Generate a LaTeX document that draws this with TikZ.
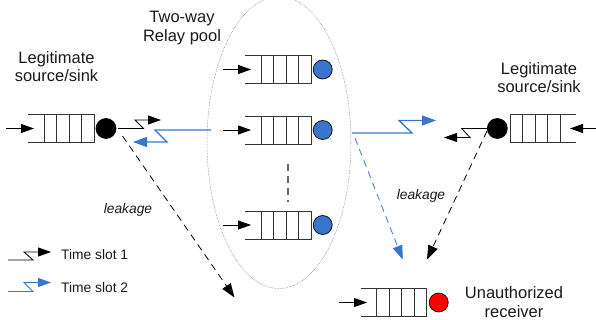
\documentclass[tikz,border=0pt]{standalone}
\usepackage{fontspec}
\setmainfont{Liberation Sans}
\usetikzlibrary{arrows.meta,shapes.geometric}
\definecolor{myblue}{RGB}{58,117,205}
\definecolor{txt}{RGB}{25,25,25}
\tikzset{
  x=1pt,y=-1pt,
  qline/.style={draw=black!80,line width=0.9pt},
  inarrow/.style={draw=black,line width=0.8pt,-{Triangle[length=13pt,width=9pt]}},
  zig/.style={line width=0.8pt,-{Triangle[length=13pt,width=9pt]}},
  zigblue/.style={draw=myblue,line width=1.3pt,-{Triangle[length=14pt,width=10pt]}},
  zigleg/.style={draw=myblue,line width=0.8pt,-{Triangle[length=13pt,width=9pt]}},
  leak/.style={line width=0.8pt,dash pattern=on 7pt off 5pt,-{Triangle[length=14pt,width=10pt]}},
  leakblue/.style={leak,draw=myblue},
  dot/.style={circle,draw=black,line width=0.7pt,inner sep=0pt,minimum size=19pt},
  lab/.style={align=center,text=txt,inner sep=0pt,font=\fontsize{16.5}{18.7}\selectfont},
  smalllab/.style={text=txt,font=\fontsize{13.8}{16}\selectfont},
  leaklab/.style={text=txt,font=\fontsize{13.8}{16}\selectfont\itshape},
}
\newcommand{\queueL}[2]{%
  \draw[qline] (#1,#2) -- ++(66,0) -- ++(0,28) -- ++(-66,0);
  \foreach \k in {16,28.5,41,53.5} \draw[qline] (#1+\k,#2) -- ++(0,28);
}
\newcommand{\queueR}[2]{%
  \draw[qline] (#1+66,#2) -- ++(-66,0) -- ++(0,28) -- ++(66,0);
  \foreach \k in {12.5,25,37.5,50} \draw[qline] (#1+\k,#2) -- ++(0,28);
}
\begin{document}
\begin{tikzpicture}
\useasboundingbox (0,0) rectangle (596,320);
% pool
\begin{scope}
\clip (0,0) rectangle (596,320);
\node[draw=black!60,densely dotted,line width=0.5pt,ellipse,inner sep=0pt,minimum width=144pt,minimum height=292pt] (pool) at (279,142.5) {};
\end{scope}
% queues
\queueL{28}{114.5}
\queueL{245}{55}
\queueL{245}{116}
\queueL{245}{211}
\queueR{510}{114.5}
\queueL{360.7}{288.5}
% servers
\node[dot,fill=black,minimum size=20pt] (src) at (106,128.5) {};
\node[dot,fill=myblue] (r1) at (322.7,69.5) {};
\node[dot,fill=myblue] (r2) at (322.7,130) {};
\node[dot,fill=myblue] (r3) at (322.7,225) {};
\node[dot,fill=black,minimum size=20pt] (dst) at (497.3,128.5) {};
\node[dot,fill=red] (eve) at (438.7,302.5) {};
% input arrows
\coordinate (a0) at (6,128.5);   \coordinate (a0e) at (34,128.5);
\coordinate (a1) at (223,69.5);  \coordinate (a1e) at (251,69.5);
\coordinate (a2) at (223,130);   \coordinate (a2e) at (251,130);
\coordinate (a3) at (223,225);   \coordinate (a3e) at (251,225);
\coordinate (a4) at (596,128.5); \coordinate (a4e) at (570,128.5);
\coordinate (a5) at (339,302.5); \coordinate (a5e) at (367,302.5);
\foreach \s/\e in {a0/a0e,a1/a1e,a2/a2e,a3/a3e,a4/a4e,a5/a5e} \draw[inarrow] (\s) -- (\e);
% vertical dashes in the pool
\coordinate (d1) at (288,164); \coordinate (d2) at (288,202);
\draw[black!60,line width=1.2pt,dash pattern=on 7.5pt off 4.5pt] (d1) -- (d2);
% zigzag links
\coordinate (z1) at (118,128.5);
\coordinate (z1e) at (161,120);
\draw[zig] (z1) -- (143.5,128.5) -- (135,120) -- (z1e);
\coordinate (z2) at (211,130);
\coordinate (z2e) at (133,142);
\draw[zigblue] (z2) -- (155,130) -- (167,142) -- (z2e);
\coordinate (z3) at (352,133);
\coordinate (z3e) at (436,120.5);
\draw[zigblue] (z3) -- (412,133) -- (399,120.5) -- (z3e);
\coordinate (z4) at (487,128.5);
\coordinate (z4e) at (444,137.5);
\draw[zig] (z4) -- (461.7,128.5) -- (470,137.5) -- (z4e);
% leakage
\coordinate (l1) at (122.5,136); \coordinate (l1e) at (234.5,297.5);
\coordinate (l2) at (355,138);   \coordinate (l2e) at (402.7,259.5);
\coordinate (l3) at (487,131);   \coordinate (l3e) at (427,259.5);
\draw[leak] (l1) -- (l1e);
\draw[leakblue] (l2) -- (l2e);
\draw[leak] (l3) -- (l3e);
% legend
\coordinate (k1) at (8,260);   \coordinate (k1e) at (51,252);
\coordinate (k2) at (8,291.5); \coordinate (k2e) at (51,282.5);
\draw[zig] (k1) -- (33,260) -- (24,252) -- (k1e);
\draw[zigleg] (k2) -- (33,291.5) -- (24,282.5) -- (k2e);
\node[smalllab,anchor=west,inner sep=0pt] (t1) at (61,255) {Time slot 1};
\node[smalllab,anchor=west,inner sep=0pt] (t2) at (61,288) {Time slot 2};
% labels
\node[lab] (two) at (182,28) {Two-way\\Relay pool};
\node[lab] (ls) at (56.5,66.5) {Legitimate\\source/sink};
\node[lab] (rs) at (539,77.5) {Legitimate\\source/sink};
\node[lab] (un) at (514,302) {Unauthorized\\receiver};
\node[leaklab] (lk1) at (128,210) {leakage};
\node[leaklab] (lk2) at (421,196) {leakage};
\end{tikzpicture}
\end{document}
